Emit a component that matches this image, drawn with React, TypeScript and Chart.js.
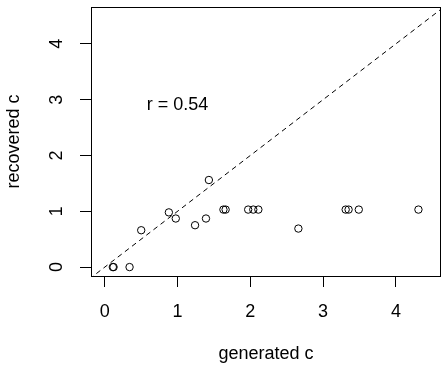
import React, { useEffect, useRef } from "react";
import { Chart, registerables } from "chart.js";

Chart.register(...registerables);

const generatedC = [0.11, 0.12, 0.34, 0.5, 0.88, 0.975, 1.24, 1.39, 1.43, 1.63, 1.66, 1.97, 2.04, 2.11, 2.66, 3.31, 3.35, 3.49, 4.31];
const recoveredC = [0, 0, 0, 0.66, 0.98, 0.87, 0.75, 0.87, 1.56, 1.03, 1.03, 1.03, 1.03, 1.03, 0.69, 1.03, 1.03, 1.03, 1.03];
const xTicks = [0, 1, 2, 3, 4];
const yTicks = [0, 1, 2, 3, 4];
const xRange = [-0.19, 4.62];
const yRange = [-0.16, 4.66];
const identityLine = [-1, 6];
const corrLabel = "r = 0.54";
const corrPos = [1, 2.9];
const xTitle = "generated c";
const yTitle = "recovered c";

const FONT = "'Liberation Sans', Arial, sans-serif";

const boxAndLabels = {
  id: "boxAndLabels",
  afterDraw(chart: any) {
    const { ctx, chartArea } = chart;
    const ys = chart.scales.y;
    const xs = chart.scales.x;
    ctx.save();
    ctx.strokeStyle = "#000";
    ctx.lineWidth = 1;
    ctx.strokeRect(
      Math.round(chartArea.left) + 0.5,
      Math.round(chartArea.top) + 0.5,
      Math.round(chartArea.right - chartArea.left) - 1,
      Math.round(chartArea.bottom - chartArea.top)
    );
    ctx.fillStyle = "#000";
    ctx.font = `18px ${FONT}`;
    ctx.textAlign = "center";
    ctx.textBaseline = "middle";
    for (const v of yTicks) {
      const py = ys.getPixelForValue(v);
      ctx.save();
      ctx.translate(57, py);
      ctx.rotate(-Math.PI / 2);
      ctx.fillText(String(v), 0, 0);
      ctx.restore();
    }
    ctx.fillText(corrLabel, xs.getPixelForValue(corrPos[0]), ys.getPixelForValue(corrPos[1]));
    ctx.restore();
  },
};

export default function App() {
  const ref = useRef<HTMLCanvasElement>(null);
  useEffect(() => {
    if (!ref.current) return;
    const chart = new Chart(ref.current, {
      type: "scatter",
      data: {
        datasets: [
          {
            type: "line",
            data: identityLine.map((v) => ({ x: v, y: v })),
            borderColor: "#000",
            borderWidth: 1,
            borderDash: [5, 4],
            pointRadius: 0,
            fill: false,
          } as any,
          {
            data: generatedC.map((x, i) => ({ x, y: recoveredC[i] })),
            pointStyle: "circle",
            pointRadius: 3.7,
            borderWidth: 1,
            borderColor: "#000",
            backgroundColor: "rgba(0,0,0,0)",
          },
        ],
      },
      options: {
        responsive: false,
        animation: false,
        events: [],
        layout: { autoPadding: false, padding: { top: 7, right: 1, left: 0, bottom: 0 } },
        plugins: { legend: { display: false }, tooltip: { enabled: false } },
        scales: {
          x: {
            type: "linear",
            min: xRange[0],
            max: xRange[1],
            afterBuildTicks: (s: any) => {
              s.ticks = xTicks.map((v) => ({ value: v }));
            },
            afterFit: (s: any) => {
              s.height = 93;
              s.paddingLeft = 0;
              s.paddingRight = 0;
            },
            border: { display: false },
            grid: { drawOnChartArea: false, drawTicks: true, tickLength: 11, color: "#000", lineWidth: 1 },
            ticks: { color: "#000", font: { size: 18, family: FONT }, padding: 14, maxRotation: 0, callback: (v: any) => String(v) },
            title: { display: true, text: xTitle, color: "#000", font: { size: 18, family: FONT }, padding: { top: 0, bottom: 4.5 } },
          },
          y: {
            type: "linear",
            min: yRange[0],
            max: yRange[1],
            afterBuildTicks: (s: any) => {
              s.ticks = yTicks.map((v) => ({ value: v }));
            },
            afterFit: (s: any) => {
              s.width = 91;
              s.paddingTop = 0;
              s.paddingBottom = 0;
            },
            border: { display: false },
            grid: { drawOnChartArea: false, drawTicks: true, tickLength: 11, color: "#000", lineWidth: 1 },
            ticks: { display: false },
            title: { display: true, text: yTitle, color: "#000", font: { size: 18, family: FONT }, padding: { top: 3, bottom: 0 } },
          },
        },
      },
      plugins: [boxAndLabels],
    });
    return () => chart.destroy();
  }, []);
  return (
    <div style={{ position: "fixed", left: 0, top: 0, width: 442, height: 369, background: "#fff" }}>
      <canvas ref={ref} width={442} height={369} style={{ display: "block" }} />
    </div>
  );
}
